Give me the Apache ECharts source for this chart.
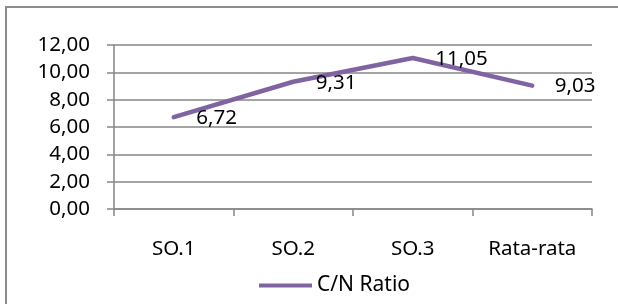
<!DOCTYPE html>
<html>
<head>
<meta charset="utf-8">
<script src="https://cdn.jsdelivr.net/npm/echarts@6/dist/echarts.min.js"></script>
<style>
  html, body { margin: 0; padding: 0; background: #fff; }
  #chart { width: 618px; height: 304px; }
</style>
</head>
<body>
<div id="chart"></div>
<script>
const categories = ['SO.1', 'SO.2', 'SO.3', 'Rata-rata'];
const cnRatio = [6.72, 9.31, 11.05, 9.03];
const yTicks = [0, 2, 4, 6, 8, 10, 12];

const fmt = v => v.toFixed(2).replace('.', ',');
const font = 'Noto Sans';

const chart = echarts.init(document.getElementById('chart'));

const option = {
    animation: false,
    textStyle: { fontFamily: font },
    graphic: [{
        type: 'rect',
        shape: { x: 6, y: 7, width: 700, height: 400 },
        style: { fill: 'none', stroke: '#8c8c8c', lineWidth: 2 },
        z: -1
    }],
    grid: { left: 114, right: 26, top: 45, bottom: 95 },
    legend: {
        data: ['C/N Ratio'],
        left: 254,
        top: 270,
        itemWidth: 53,
        itemHeight: 4,
        itemGap: 6,
        textStyle: { fontFamily: font, fontSize: 21, color: '#000' },
        icon: 'rect'
    },
    xAxis: {
        type: 'category',
        data: categories,
        boundaryGap: true,
        axisLine: { lineStyle: { color: '#868686', width: 1.5 } },
        axisTick: { show: true, length: 7, lineStyle: { color: '#868686', width: 1.5 } },
        axisLabel: { color: '#000', fontSize: 20.5, fontFamily: font, margin: 30 }
    },
    yAxis: {
        type: 'value',
        min: yTicks[0],
        max: yTicks[yTicks.length - 1],
        interval: 2,
        axisLine: { show: true, lineStyle: { color: '#868686', width: 1.5 } },
        axisTick: { show: true, length: 7, lineStyle: { color: '#868686', width: 1.5 } },
        axisLabel: { color: '#000', fontSize: 20.5, fontFamily: font, margin: 24, formatter: v => fmt(v) },
        splitLine: { show: true, lineStyle: { color: '#868686', width: 1.5 } }
    },
    series: [{
        name: 'C/N Ratio',
        type: 'line',
        data: cnRatio,
        symbol: 'circle',
        symbolSize: 1,
        showSymbol: true,
        lineStyle: { color: '#8064A2', width: 4.5, cap: 'round', join: 'round' },
        itemStyle: { color: '#8064A2' },
        label: {
            show: true,
            position: 'right',
            distance: 22,
            offset: [0, 1],
            color: '#000',
            fontSize: 20.5,
            fontFamily: font,
            formatter: p => fmt(p.value)
        }
    }]
};

chart.setOption(option);
window.addEventListener('resize', function () {
    chart.resize();
});
</script>
</body>
</html>
